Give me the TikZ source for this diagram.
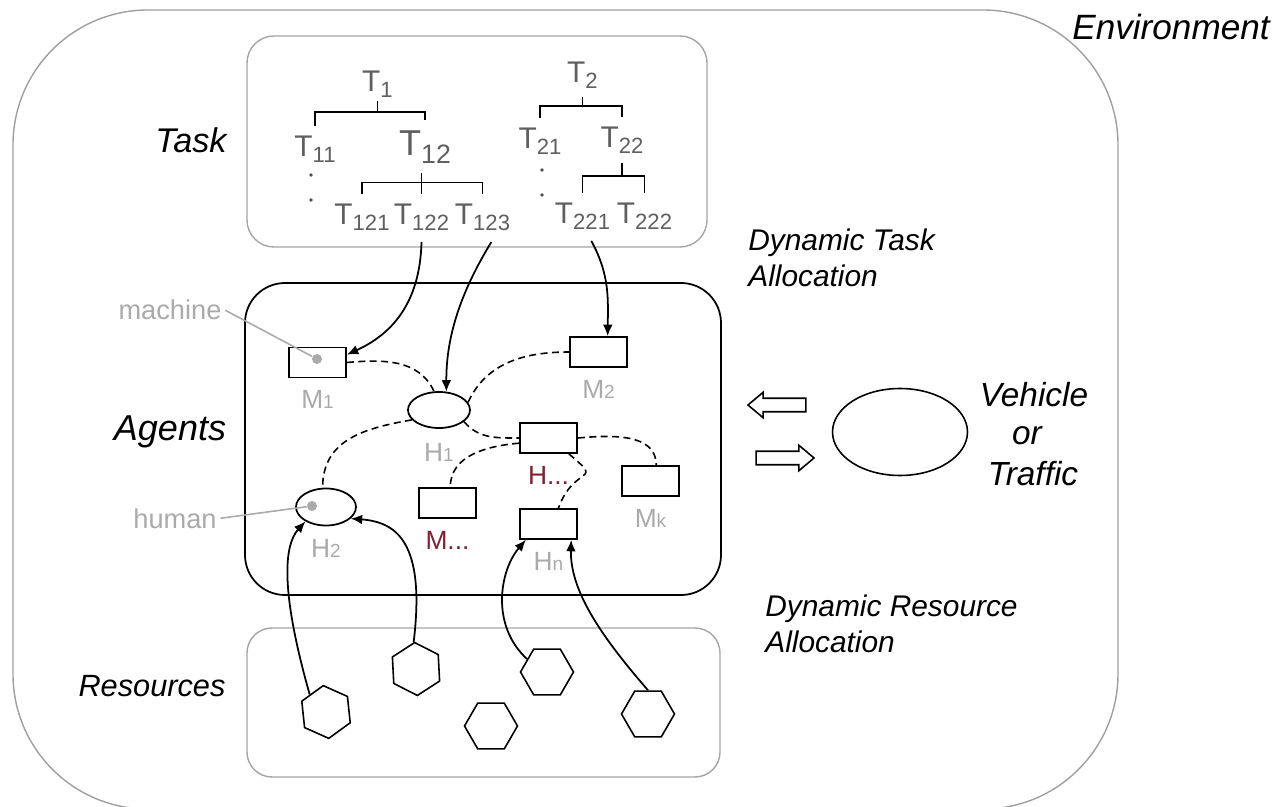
\documentclass[tikz,border=0pt]{standalone}
\usepackage{fontspec}
\setmainfont{Liberation Sans}
\usepackage{graphicx}
\usepackage{tikz}
\usetikzlibrary{positioning,shapes.geometric,shapes.arrows,arrows.meta}
\tikzset{>={Latex[length=6.5pt,width=5.5pt]}}
\definecolor{tgray}{RGB}{95,95,95}
\definecolor{lgray}{RGB}{170,170,170}
\definecolor{bgray}{RGB}{165,165,165}
\definecolor{dred}{RGB}{128,32,48}
\newcommand{\tsub}[1]{\raisebox{-0.2em}{\scalebox{0.74}{#1}}}
\newcommand{\asub}[1]{\scalebox{0.72}{#1}}

\begin{document}
\begin{tikzpicture}[
    x=0.02cm, y=0.02cm,
    region/.style={draw=bgray, line width=0.8pt},
    tasknode/.style={text=tgray, font=\fontsize{17}{20}\selectfont, inner xsep=0pt, inner ysep=6pt, anchor=base},
    taskdot/.style={circle, fill=tgray!80!black, minimum size=2.2pt, inner sep=0pt},
    tree/.style={line width=1pt},
    machinebox/.style={draw, line width=1pt, rectangle, minimum width=1.14cm, minimum height=0.6cm, inner sep=0pt},
    humanbox/.style={draw, line width=1pt, ellipse, minimum width=1.22cm, minimum height=0.73cm, inner sep=0pt},
    agentlabel/.style={text=lgray, font=\fontsize{15}{18}\selectfont, inner sep=0pt},
    openlabel/.style={agentlabel, text=dred},
    hint/.style={text=lgray, font=\fontsize{15.5}{18}\selectfont, inner sep=2pt, anchor=base},
    hintdot/.style={circle, fill=lgray, minimum size=0.2cm, inner sep=0pt},
    hintline/.style={draw=lgray, line width=0.9pt},
    link/.style={line width=0.9pt, dash pattern=on 4pt off 2.5pt},
    assign/.style={->, line width=1pt},
    resource/.style={draw, line width=0.9pt, regular polygon, regular polygon sides=6, minimum size=1.06cm, inner sep=0pt},
    flowarrow/.style={draw, line width=0.9pt, single arrow, single arrow head extend=0.12cm, single arrow tip angle=80, minimum height=1.16cm, inner sep=0.12cm},
    title/.style={font=\itshape\fontsize{#1}{22}\selectfont, inner sep=0pt, anchor=base},
    title/.default=19
]
    \useasboundingbox (0,0) rectangle (1275,-807);

    % Regions
    \draw[region, draw=gray!75, rounded corners=2.7cm] (13,-10) rectangle (1118,-809);
    \draw[region, rounded corners=0.54cm] (247,-36) rectangle (707,-247);
    \draw[line width=1pt, rounded corners=0.8cm] (245,-283) rectangle (721,-595);
    \draw[region, rounded corners=0.5cm] (247,-628) rectangle (720,-777);

    % Titles
    \node[title=20] (envtxt) at (1171,-40) {Environment};
    \node[title=19.5] (tasktxt) at (191,-152.5) {Task};
    \node[title=20.5] (agenttxt) at (170,-441) {Agents};
    \node[title=17.5] (restxt) at (152,-696) {Resources};
    \node[font=\itshape\fontsize{17}{20}\selectfont, align=left, anchor=north west, inner sep=0pt] (dta) at (748,-229) {Dynamic Task\\Allocation};
    \node[font=\itshape\fontsize{17}{20}\selectfont, align=left, anchor=north west, inner sep=0pt] (dra) at (765,-595) {Dynamic Resource\\Allocation};

    % Task tree
    \node[tasknode] (t1) at (377.5,-92) {T\tsub{1}};
    \node[tasknode] (t11) at (315,-157) {T\tsub{11}};
    \node[tasknode, font=\fontsize{20.5}{22}\selectfont] (t12) at (425,-156) {T\tsub{12}};
    \node[tasknode] (t121) at (362,-225) {T\tsub{121}};
    \node[tasknode] (t122) at (421.5,-225) {T\tsub{122}};
    \node[tasknode] (t123) at (482.5,-225) {T\tsub{123}};
    \node[tasknode] (t2) at (582.5,-83) {T\tsub{2}};
    \node[tasknode] (t21) at (540,-149) {T\tsub{21}};
    \node[tasknode] (t22) at (622,-148) {T\tsub{22}};
    \node[tasknode] (t221) at (582.5,-224) {T\tsub{221}};
    \node[tasknode] (t222) at (644.5,-224) {T\tsub{222}};
    \node[taskdot] (d11a) at (311,-175) {};
    \node[taskdot] (d11b) at (311,-200) {};
    \node[taskdot] (d21a) at (542,-170) {};
    \node[taskdot] (d21b) at (542,-195) {};

    \draw[tree] (t1.base) ++(0,-9) -- ++(0,-11) coordinate (b1);
    \draw[tree] (t11.north) |- (b1) -| (t12.north);
    \draw[tree] (t122.north) -- ++(0,11) coordinate (b12) -- ++(0,10);
    \draw[tree] (t121.north) |- (b12) -| (t123.north);
    \draw[tree] (t2.base) ++(0,-14) -- ++(0,-9) coordinate (b2);
    \draw[tree] (t21.north) |- (b2) -| (t22.north);
    \draw[tree] (t22.base) ++(0,-15) -- ++(0,-13) coordinate (b22);
    \draw[tree] (t221.north) |- (b22) -| (t222.north);

    % Agents
    \node[machinebox] (m1) at (317.5,-362.5) {};
    \node[machinebox] (m2) at (598.5,-352) {};
    \node[humanbox, minimum width=1.24cm, minimum height=0.72cm] (h1) at (439,-410) {};
    \node[machinebox] (hd) at (548.5,-438) {};
    \node[machinebox] (mk) at (650.5,-481) {};
    \node[machinebox] (md) at (447.5,-503) {};
    \node[machinebox] (hn) at (548.5,-524) {};
    \node[humanbox, minimum width=1.2cm, minimum height=0.74cm] (h2) at (326,-507) {};

    \node[agentlabel, below=0.24cm of m1] (m1lab) {M\asub{1}};
    \node[agentlabel, below=0.24cm of m2] (m2lab) {M\asub{2}};
    \node[agentlabel, below=0.28cm of h1] (h1lab) {H\asub{1}};
    \node[openlabel, below=0.24cm of hd] (hdlab) {H...};
    \node[agentlabel, below=0.24cm of mk] (mklab) {M\asub{k}};
    \node[openlabel, below=0.24cm of md] (mdlab) {M...};
    \node[agentlabel, below=0.24cm of hn] (hnlab) {H\asub{n}};
    \node[agentlabel, below=0.26cm of h2] (h2lab) {H\asub{2}};

    \node[hint] (machinetxt) at (170,-320) {machine};
    \node[hint] (humantxt) at (175,-528) {human};
    \node[hintdot] (mdot) at (317,-359) {};
    \node[hintdot] (hdot) at (312,-506) {};
    \draw[hintline] (machinetxt.east) -- (mdot);
    \draw[hintline] (humantxt.east) -- (hdot);

    % Links between agents
    \draw[link] (m1.east) to[out=5,in=115] (h1.105);
    \draw[link] (h1.15) to[out=65,in=180] (m2.west);
    \draw[link] (h1.200) to[out=190,in=90,looseness=1.1] (h2.100);
    \draw[link] (h1.-25) to[out=-50,in=180] (hd.west);
    \draw[link] (hd.east) to[out=5,in=90] (mk.70);
    \draw[link] (hd.190) to[out=185,in=90] (md.80);
    \draw[link] (hd.-38) to[out=-40,in=70,looseness=2.2] (hn.58);

    % Task allocation
    \draw[assign] (t122.south) .. controls (420,-305) and (390,-335) .. (m1.15);
    \draw[assign] (t123.-70) .. controls (462,-290) and (446,-335) .. (h1.68);
    \draw[assign] (t221.-70) .. controls (610,-275) and (608,-300) .. (m2.60);

    % Resources
    \node[resource, shape border rotate=36] (ra) at (326,-712) {};
    \node[resource, shape border rotate=33] (rb) at (416,-669) {};
    \node[resource] (rc) at (491,-726) {};
    \node[resource] (rd) at (547,-672) {};
    \node[resource] (re) at (648,-714) {};

    \draw[assign] (ra.133) .. controls (280,-590) and (284,-545) .. (h2.215);
    \draw[assign] (rb.95) .. controls (426,-540) and (395,-522) .. (h2.-25);
    \draw[assign] (rd.147) .. controls (490,-625) and (500,-570) .. (hn.215);
    \draw[assign] (re.north) .. controls (600,-635) and (570,-590) .. (hn.-35);

    % Vehicle or traffic
    \node[flowarrow, shape border rotate=180] (fromveh) at (781,-405) {};
    \node[flowarrow] (toveh) at (781,-458) {};
    \node[draw, line width=0.9pt, ellipse, minimum width=2.7cm, minimum height=1.74cm] (vehicle) at (900,-432) {};
    \node[title] (vehtxt) at (1034,-407) {Vehicle};
    \node[title] (ortxt) at (1027,-445) {or};
    \node[title] (traftxt) at (1033,-485) {Traffic};
\end{tikzpicture}
\end{document}
